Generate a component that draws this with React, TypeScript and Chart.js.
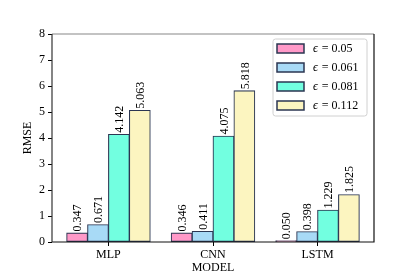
import React, { useEffect, useRef } from "react";
import { Chart, registerables } from "chart.js";

Chart.register(...registerables);

const categories = ["MLP", "CNN", "LSTM"];
const seriesLabels = ["0.05", "0.061", "0.081", "0.112"];
const eps005 = [0.347, 0.346, 0.05];
const eps0061 = [0.671, 0.411, 0.398];
const eps0081 = [4.142, 4.075, 1.229];
const eps0112 = [5.063, 5.818, 1.825];
const yTicks = [0, 1, 2, 3, 4, 5, 6, 7, 8];
const xLabel = "MODEL";
const yLabel = "RMSE";

const fills = ["#ff99c8", "#a8daf6", "#72ffe0", "#fcf5c0"];
const edge = "#2b3652";
const FONT = "'Liberation Serif', 'DejaVu Serif', serif";

const seriesValues = [eps005, eps0061, eps0081, eps0112];

export default function App() {
  const ref = useRef<HTMLCanvasElement | null>(null);

  useEffect(() => {
    document.body.style.margin = "0";
    const canvas = ref.current!;
    const labelPlugin = {
      id: "custom",
      afterDatasetsDraw(chart: any) {
        const ctx = chart.ctx;
        ctx.save();
        ctx.fillStyle = "#000";
        ctx.font = `12px ${FONT}`;
        chart.data.datasets.forEach((ds: any, di: number) => {
          const meta = chart.getDatasetMeta(di);
          meta.data.forEach((el: any, i: number) => {
            const v = (ds.data[i] as any).y as number;
            ctx.save();
            ctx.translate(el.x, el.y - 1.5);
            ctx.rotate(-Math.PI / 2);
            ctx.textAlign = "left";
            ctx.textBaseline = "middle";
            ctx.fillText(v.toFixed(3), 0, 1);
            ctx.restore();
          });
        });
        ctx.restore();
      },
      afterDraw(chart: any) {
        const ctx = chart.ctx;
        const a = chart.chartArea;
        ctx.save();
        // frame
        ctx.lineWidth = 1.2;
        ctx.strokeStyle = "#888";
        ctx.beginPath();
        ctx.moveTo(a.left, a.top);
        ctx.lineTo(a.right, a.top);
        ctx.stroke();
        ctx.strokeStyle = "#111";
        ctx.beginPath();
        ctx.moveTo(a.right, a.top);
        ctx.lineTo(a.right, a.bottom);
        ctx.lineTo(a.left, a.bottom);
        ctx.stroke();
        ctx.strokeStyle = "#333";
        ctx.beginPath();
        ctx.moveTo(a.left, a.bottom);
        ctx.lineTo(a.left, a.top);
        ctx.stroke();

        // axis titles
        ctx.fillStyle = "#000";
        ctx.font = `12px ${FONT}`;
        ctx.textAlign = "center";
        ctx.textBaseline = "middle";
        ctx.fillText(xLabel, (a.left + a.right) / 2, 268);
        ctx.save();
        ctx.translate(28, (a.top + a.bottom) / 2);
        ctx.rotate(-Math.PI / 2);
        ctx.fillText(yLabel, 0, 0);
        ctx.restore();

        // legend
        const lx = 273, ly = 39, lw = 94, lh = 77;
        ctx.beginPath();
        const r = 2.5;
        ctx.moveTo(lx + r, ly);
        ctx.arcTo(lx + lw, ly, lx + lw, ly + lh, r);
        ctx.arcTo(lx + lw, ly + lh, lx, ly + lh, r);
        ctx.arcTo(lx, ly + lh, lx, ly, r);
        ctx.arcTo(lx, ly, lx + lw, ly, r);
        ctx.closePath();
        ctx.fillStyle = "rgba(255,255,255,0.85)";
        ctx.fill();
        ctx.strokeStyle = "#d0d0d0";
        ctx.lineWidth = 1;
        ctx.stroke();
        seriesLabels.forEach((s, i) => {
          const y = 44 + i * 19;
          ctx.fillStyle = fills[i];
          ctx.fillRect(277, y, 27, 9);
          ctx.strokeStyle = edge;
          ctx.lineWidth = 1.5;
          ctx.strokeRect(277, y, 27, 9);
          ctx.fillStyle = "#000";
          ctx.textAlign = "left";
          ctx.textBaseline = "middle";
          ctx.font = `italic 12px ${FONT}`;
          ctx.fillText("\u03F5", 313, y + 5);
          const w = ctx.measureText("\u03F5").width;
          ctx.font = `12px ${FONT}`;
          ctx.fillText(" = " + s, 313 + w + 1, y + 5);
        });
        ctx.restore();
      },
    };

    const chart = new Chart(canvas, {
      type: "bar",
      data: {
        datasets: seriesValues.map((vals, si) => ({
          label: "\u03F5 = " + seriesLabels[si],
          data: vals.map((v, i) => ({ x: i, y: v })),
          backgroundColor: fills[si],
          borderColor: edge,
          borderWidth: 1.1,
          borderSkipped: false,
          inflateAmount: 0.4,
          categoryPercentage: 0.8,
          barPercentage: 1.0,
        })),
      },
      plugins: [labelPlugin],
      options: {
        responsive: false,
        animation: false,
        layout: { padding: { left: 0, right: 41, top: 34, bottom: 0 } },
        plugins: { legend: { display: false }, tooltip: { enabled: false } },
        scales: {
          x: {
            type: "linear",
            min: -0.54,
            max: 2.54,
            offset: false,
            afterBuildTicks(scale: any) {
              scale.ticks = categories.map((_, i) => ({ value: i }));
            },
            afterFit(scale: any) {
              scale.height = 35;
            },
            grid: {
              offset: false,
              drawOnChartArea: false,
              drawTicks: true,
              tickLength: 4,
              color: "#000",
              tickWidth: 1,
            },
            border: { display: false },
            ticks: {
              autoSkip: false,
              maxRotation: 0,
              padding: 2,
              color: "#000",
              font: { family: FONT, size: 12 },
              callback: (v: any) => categories[Math.round(Number(v))] ?? "",
            },
          },
          y: {
            type: "linear",
            min: 0,
            max: 8,
            afterBuildTicks(scale: any) {
              scale.ticks = yTicks.map((v) => ({ value: v }));
            },
            afterFit(scale: any) {
              scale.width = 52;
            },
            grid: {
              offset: false,
              drawOnChartArea: false,
              drawTicks: true,
              tickLength: 4,
              color: "#000",
              tickWidth: 1,
            },
            border: { display: false },
            ticks: {
              padding: 3,
              color: "#000",
              font: { family: FONT, size: 12 },
              callback: (v: any) => String(v),
            },
          },
        },
      },
    } as any);
    return () => chart.destroy();
  }, []);

  return (
    <div style={{ position: "fixed", left: 0, top: 0, width: 415, height: 277, background: "#fff" }}>
      <canvas ref={ref} width={415} height={277} style={{ width: 415, height: 277 }} />
    </div>
  );
}
